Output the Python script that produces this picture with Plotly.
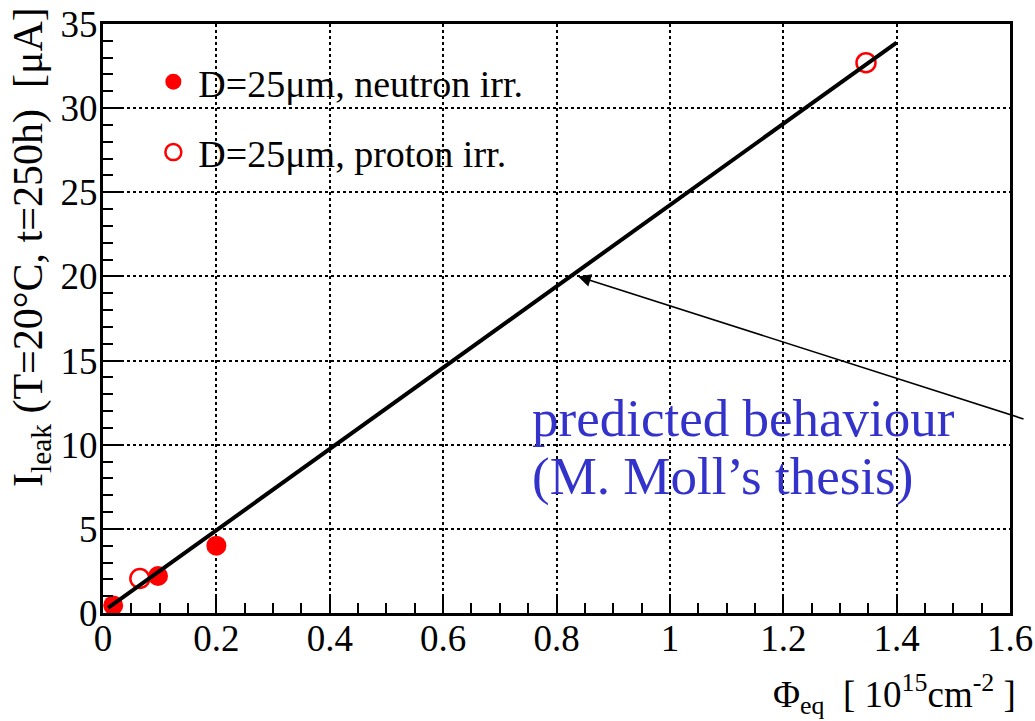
import plotly.graph_objects as go

# Data
neutron_x = [0.018, 0.097, 0.200]
neutron_y = [0.45, 2.2, 4.0]
proton_x = [0.065, 1.346]
proton_y = [2.05, 32.7]
pred_x = [0.009, 1.400]
pred_y = [0.30, 33.9]

x_ticks = [0, 0.2, 0.4, 0.6, 0.8, 1.0, 1.2, 1.4, 1.6]
y_ticks = [0, 5, 10, 15, 20, 25, 30, 35]

FONT = "Liberation Serif"

fig = go.Figure()
fig.add_trace(go.Scatter(
    x=neutron_x, y=neutron_y, mode="markers", name="D=25μm, neutron irr.",
    marker=dict(symbol="circle", size=20, color="#ff0000"),
    legendgroup="n"))
fig.add_trace(go.Scatter(
    x=proton_x, y=proton_y, mode="markers", name="D=25μm, proton irr.",
    marker=dict(symbol="circle-open", size=19, color="#ff0000", line=dict(width=2.5, color="#ff0000")),
    legendgroup="p"))
fig.add_trace(go.Scatter(
    x=pred_x, y=pred_y, mode="lines", showlegend=False,
    line=dict(color="black", width=4)))

axis_common = dict(
    showgrid=True, gridcolor="black", griddash="dot", gridwidth=1.5,
    showline=True, linecolor="black", linewidth=3, mirror=True,
    ticks="inside", ticklen=18, tickwidth=2, tickcolor="black",
    zeroline=False, automargin=False,
    tickfont=dict(family=FONT, size=37, color="black"),
)

fig.update_xaxes(range=[0, 1.6], tickvals=x_ticks,
                 ticktext=[("%g" % v) for v in x_ticks],
                 minor=dict(dtick=0.05, tick0=0, ticks="inside", ticklen=10, tickwidth=2,
                            tickcolor="black", showgrid=False),
                 ticklabelstandoff=-9,
                 **axis_common)
fig.update_yaxes(range=[0, 35], tickvals=y_ticks,
                 ticktext=[str(v) for v in y_ticks],
                 minor=dict(dtick=1, tick0=0, ticks="inside", ticklen=10, tickwidth=2,
                            tickcolor="black", showgrid=False),
                 ticklabelstandoff=-5,
                 **axis_common)

fig.update_layout(
    width=1035, height=721,
    margin=dict(l=103, r=25, t=24, b=108),
    plot_bgcolor="white", paper_bgcolor="white",
    font=dict(family=FONT, color="black"),
    legend=dict(x=0.05, y=0.955, xanchor="left", yanchor="top",
                bgcolor="rgba(0,0,0,0)", font=dict(family=FONT, size=38, color="black"),
                tracegroupgap=18, traceorder="grouped", itemwidth=40),
    showlegend=True,
)

# arrow pointing to predicted line
fig.add_annotation(x=0.838, y=20.0, xref="x", yref="y", text="", showarrow=True,
                   ax=447, ay=143, arrowhead=2, arrowsize=1.6, arrowwidth=1.6,
                   arrowcolor="black", standoff=0)

blue = "#3333cc"
fig.add_annotation(x=(530 - 103) / 907, y=(613 - 418) / 589, xref="paper", yref="paper",
                   text="predicted behaviour", showarrow=False, xanchor="left", yanchor="middle",
                   font=dict(family=FONT, size=53, color=blue))
fig.add_annotation(x=(530 - 103) / 907, y=(613 - 476) / 589, xref="paper", yref="paper",
                   text="(M. Moll\u2019s thesis)", showarrow=False, xanchor="left", yanchor="middle",
                   font=dict(family=FONT, size=53, color=blue))

# axis titles
fig.add_annotation(x=(31 - 103) / 907, y=(613 - 5) / 589, xref="paper", yref="paper",
                   text="I<sub>leak</sub> (T=20°C, t=250h)  [μA]", textangle=-90,
                   showarrow=False, xanchor="center", yanchor="top",
                   font=dict(family=FONT, size=42, color="black"))
fig.add_annotation(x=(1018 - 103) / 907, y=(613 - 694) / 589, xref="paper", yref="paper",
                   text="Φ<sub>eq</sub>  [ 10<sup>15</sup>cm<sup>-2</sup> ]",
                   showarrow=False, xanchor="right", yanchor="middle",
                   font=dict(family=FONT, size=37, color="black"))

fig.write_html("out.html")
